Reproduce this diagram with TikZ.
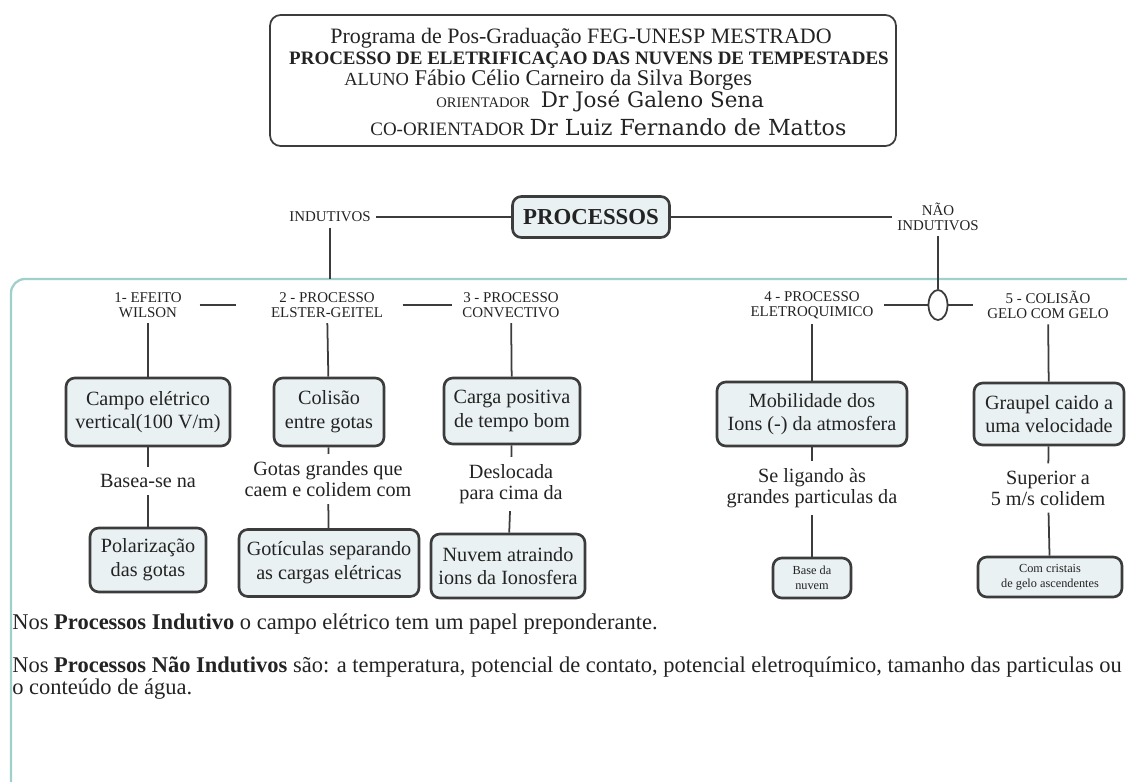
\documentclass[tikz,border=0pt]{standalone}
\usepackage{fontspec}
\setmainfont{Liberation Serif}
\newfontfamily\namefont{DejaVu Serif}
\usetikzlibrary{positioning,shapes.geometric}
\definecolor{boxfill}{RGB}{233,241,243}
\definecolor{boxline}{RGB}{60,60,60}
\definecolor{framecol}{RGB}{160,208,204}
\definecolor{inkgray}{RGB}{35,35,35}

\tikzset{
  procbox/.style={draw=boxline, line width=1.5pt, fill=boxfill, rounded corners=5pt,
    align=center, inner sep=2pt, font=\fontsize{11.5}{13.5}\selectfont},
  smallbox/.style={procbox, font=\fontsize{7}{8.5}\selectfont},
  caplabel/.style={align=center, inner sep=3pt, font=\fontsize{8.5}{8.5}\selectfont},
  midlabel/.style={align=center, inner sep=4pt, font=\fontsize{11.5}{12}\selectfont},
  link/.style={draw=boxline, line width=1pt},
}

\begin{document}
\begin{tikzpicture}[x=0.02cm, y=-0.02cm, inkgray]
    \useasboundingbox (0,0) rectangle (1127,782);

    % Header
    \node[draw=boxline, line width=1pt, rounded corners=6pt,
          minimum width=12.52cm, minimum height=2.62cm] (hdr) at (583,80.5) {};
    \node[font=\fontsize{12.5}{14}\selectfont] (prog) at (581,38.5)
        {Programa de Pos-Graduação FEG-UNESP MESTRADO};
    \node[font=\bfseries\fontsize{10.8}{12}\selectfont] (title) at (589,60.5)
        {PROCESSO DE ELETRIFICAÇAO DAS NUVENS DE TEMPESTADES};
    \node[anchor=west, inner sep=0pt, font=\fontsize{12.8}{14}\selectfont] (aluno) at (344,80)
        {{\fontsize{10.5}{12}\selectfont ALUNO} Fábio Célio Carneiro da Silva Borges};
    \node[anchor=west, inner sep=0pt, font=\fontsize{8.3}{10}\selectfont] (orient) at (436,101)
        {ORIENTADOR\ \ \ {\namefont\fontsize{12.2}{14}\selectfont Dr José Galeno Sena}};
    \node[anchor=west, inner sep=0pt, font=\fontsize{10.8}{12}\selectfont] (coorient) at (370,127)
        {CO-ORIENTADOR {\namefont\fontsize{12.6}{14}\selectfont Dr Luiz Fernando de Mattos}};

    % Frame
    \draw[framecol, line width=1.3pt, rounded corners=8pt] (11,782) -- (11,279) -- (1127,279);

    % Top level
    \node[procbox, font=\bfseries\fontsize{13}{15}\selectfont,
          minimum width=3.14cm, minimum height=0.82cm] (proc) at (591,217) {PROCESSOS};
    \node[caplabel] (ind) at (330,217) {INDUTIVOS};
    \node[caplabel] (nind) at (938,217) {NÃO\\INDUTIVOS};
    \coordinate (ftop) at (330,279);
    \node[draw=boxline, line width=1pt, ellipse, inner sep=0pt,
          minimum width=0.38cm, minimum height=0.6cm] (ell) at (938,305) {};

    \draw[link] (ind) -- (proc);
    \draw[link] (proc) -- (nind);
    \draw[link] (ind) -- (ftop);
    \draw[link] (nind) -- (ell);

    % Process labels
    \node[caplabel] (lab1) at (148,305) {1- EFEITO\\WILSON};
    \node[caplabel] (lab2) at (327,305) {2 - PROCESSO\\ELSTER-GEITEL};
    \node[caplabel] (lab3) at (511,305) {3 - PROCESSO\\CONVECTIVO};
    \node[caplabel] (lab4) at (812,305) {4 - PROCESSO\\ELETROQUIMICO};
    \node[caplabel] (lab5) at (1048,305) {5 - COLISÃO\\GELO COM GELO};

    \draw[link, shorten <=7pt, shorten >=17pt] (lab1) -- (lab2);
    \draw[link, shorten <=8pt, shorten >=3pt] (lab2) -- (lab3);
    \draw[link, shorten <=3pt] (lab4) -- (ell);
    \draw[link, shorten >=5pt] (ell) -- (lab5);

    % First boxes
    \node[procbox, minimum width=3.28cm, minimum height=1.36cm] (box1a) at (148,412)
        {Campo elétrico\\vertical(100 V/m)};
    \node[procbox, minimum width=2.2cm, minimum height=1.36cm] (box2a) at (329,412)
        {Colisão\\entre gotas};
    \node[procbox, minimum width=2.72cm, minimum height=1.32cm] (box3a) at (512,411)
        {Carga positiva\\de tempo bom};
    \node[procbox, minimum width=3.8cm, minimum height=1.28cm] (box4a) at (812,414)
        {Mobilidade dos\\Ions (-) da atmosfera};
    \node[procbox, minimum width=3.0cm, minimum height=1.24cm] (box5a) at (1049,414)
        {Graupel caido a\\uma velocidade};

    % Middle texts
    \node[midlabel] (mid1) at (148,481) {Basea-se na};
    \node[midlabel] (mid2) at (328,479) {Gotas grandes que\\caem e colidem com};
    \node[midlabel] (mid3) at (511,484) {Deslocada\\para cima da};
    \node[midlabel] (mid4) at (812,488) {Se ligando às\\grandes particulas da};
    \node[midlabel] (mid5) at (1048,488) {Superior a\\5 m/s colidem};

    % Second boxes
    \node[procbox, minimum width=2.32cm, minimum height=1.28cm] (box1b) at (148,560)
        {Polarização\\das gotas};
    \node[procbox, minimum width=3.6cm, minimum height=1.34cm] (box2b) at (329,563)
        {Gotículas separando\\as cargas elétricas};
    \node[procbox, minimum width=3.08cm, minimum height=1.28cm] (box3b) at (508,566)
        {Nuvem atraindo\\ions da Ionosfera};
    \node[smallbox, minimum width=1.56cm, minimum height=0.8cm] (box4b) at (812,578)
        {Base da\\nuvem};
    \node[smallbox, minimum width=2.88cm, minimum height=0.8cm] (box5b) at (1050,577)
        {Com cristais\\de gelo ascendentes};

    % Columns
    \foreach \c in {1,...,5}{
        \draw[link] (lab\c) -- (box\c a);
        \draw[link] (box\c a) -- (mid\c);
        \draw[link] (mid\c) -- (box\c b);
    }

    % Notes
    \node[anchor=west, inner sep=0pt, font=\fontsize{12.8}{14}\selectfont] (note1) at (12,624)
        {Nos \textbf{Processos Indutivo} o campo elétrico tem um papel preponderante.};
    \node[anchor=north west, align=left, inner sep=0pt, font=\fontsize{12.8}{12.6}\selectfont] (note2) at (12,656)
        {Nos \textbf{Processos Não Indutivos} são: a temperatura, potencial de contato, potencial eletroquímico, tamanho das particulas ou\\o conteúdo de água.};
\end{tikzpicture}
\end{document}
